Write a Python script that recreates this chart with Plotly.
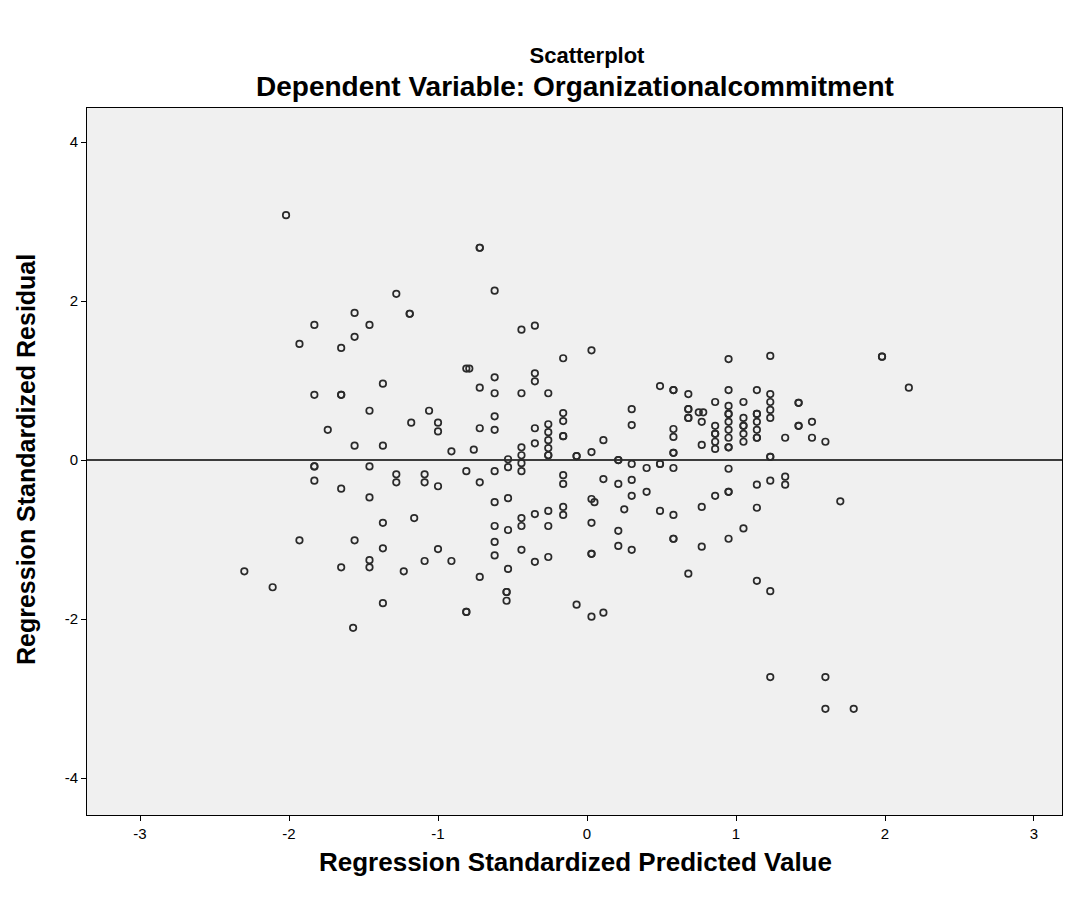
import plotly.graph_objects as go

# Regression standardized predicted values (x) and standardized residuals (y)
pred = [
    -2.02, -1.28, -1.56, -1.83, -1.46, -1.56, -1.93, -1.65, -1.37,
    -0.72, -0.72, -0.62, -1.19, -1.19, -0.44, -0.35, -0.16, -0.81, -0.79, -0.62, -0.35,
    0.03, 0.95, 1.23, 1.98, 1.98,
    -1.83, -1.65, -1.65, -1.46, -1.74, -1.56, -1.37, -1.83, -1.83, -1.46, -1.28, -1.28,
    -1.83, -1.65, -1.46, -1.37, -1.93, -1.56, -1.37, -1.46,
    -2.30, -2.11, -1.65, -1.46, -1.23, -1.37, -1.57,
    -0.72, -0.62, -0.44, -0.26, -0.35, -1.06, -1.18, -1.00, -1.00, -0.72, -0.62, -0.62,
    -0.35, -0.35, -0.26, -0.26, -0.26, -0.26, -0.26, -0.26, -0.16, -0.16, -0.16, -0.16,
    -0.07, -0.07, -0.91, -0.76, -0.53, -0.53, -0.44, -0.44, -0.44, -0.44,
    -1.09, -1.09, -1.00, -0.81, -0.72, -0.62, -0.16, -0.16, -0.62, -0.53,
    -1.16, -0.44, -0.44, -0.35, -0.26, -0.16, -0.16, -0.62, -0.53, -0.26,
    -0.62, -1.00, -0.44, -0.62, -0.26, -1.09, -0.91, -0.35,
    -0.72, -0.53, -0.54, -0.54, -0.54, -0.81, -0.81, -0.07,
    0.03, 0.11, 0.68, 1.14,
    0.49, 0.58, 0.58, 0.68, 0.95, 1.14, 0.30, 0.68, 0.68, 0.68, 0.68, 0.75, 0.78,
    0.86, 0.95, 0.95, 0.95, 0.95, 0.95, 0.95, 0.95, 0.95,
    1.05, 1.05, 1.05, 1.05, 1.05, 1.05, 1.14, 1.14, 1.14, 1.14, 1.14, 1.14,
    0.77, 0.86, 0.86, 0.86, 0.86, 0.86, 0.77, 0.30, 0.11, 0.58, 0.58, 0.58, 0.58,
    0.03, 0.21, 0.21, 0.30, 0.40, 0.49, 0.49, 0.58, 0.95,
    0.11, 0.21, 0.30, 0.30, 0.40, 0.03, 0.05, 0.25, 0.49, 0.58, 0.77, 0.86, 0.95, 0.95,
    1.14, 1.14, 0.03, 0.21, 1.05, 0.58, 0.58, 0.21, 0.30, 0.77, 0.95, 0.03, 0.03,
    2.16, 1.23, 1.23, 1.23, 1.23, 1.42, 1.42, 1.42, 1.42, 1.51, 1.51, 1.60, 1.33,
    1.23, 1.23, 1.23, 1.33, 1.33, 1.70,
    1.23, 1.23, 1.60, 1.60, 1.79,
]

resid = [
    3.08, 2.09, 1.85, 1.70, 1.70, 1.55, 1.46, 1.41, 0.96,
    2.67, 2.67, 2.13, 1.84, 1.84, 1.64, 1.69, 1.28, 1.15, 1.15, 1.04, 1.09,
    1.38, 1.27, 1.31, 1.30, 1.30,
    0.82, 0.82, 0.82, 0.62, 0.38, 0.18, 0.18, -0.08, -0.08, -0.08, -0.18, -0.28,
    -0.26, -0.36, -0.47, -0.79, -1.01, -1.01, -1.11, -1.26,
    -1.40, -1.60, -1.35, -1.35, -1.40, -1.80, -2.11,
    0.91, 0.84, 0.84, 0.84, 0.99, 0.62, 0.47, 0.47, 0.36, 0.40, 0.38, 0.55,
    0.40, 0.21, 0.45, 0.35, 0.25, 0.15, 0.06, 0.06, 0.59, 0.49, 0.30, 0.30,
    0.05, 0.05, 0.11, 0.13, 0.01, -0.09, 0.16, 0.06, -0.04, -0.14,
    -0.18, -0.28, -0.33, -0.14, -0.28, -0.14, -0.19, -0.30, -0.53, -0.48,
    -0.73, -0.73, -0.83, -0.68, -0.64, -0.59, -0.69, -0.83, -0.88, -0.83,
    -1.03, -1.12, -1.13, -1.20, -1.22, -1.27, -1.27, -1.28,
    -1.47, -1.37, -1.66, -1.66, -1.77, -1.91, -1.91, -1.82,
    -1.97, -1.92, -1.43, -1.52,
    0.93, 0.88, 0.88, 0.83, 0.88, 0.88, 0.64, 0.64, 0.64, 0.53, 0.53, 0.60, 0.60,
    0.73, 0.68, 0.58, 0.58, 0.48, 0.38, 0.28, 0.16, 0.16,
    0.73, 0.53, 0.43, 0.43, 0.33, 0.23, 0.58, 0.58, 0.48, 0.38, 0.28, 0.28,
    0.48, 0.43, 0.33, 0.33, 0.23, 0.14, 0.19, 0.44, 0.25, 0.39, 0.29, 0.09, 0.09,
    0.10, 0.00, 0.00, -0.05, -0.10, -0.05, -0.05, -0.10, -0.11,
    -0.24, -0.30, -0.25, -0.45, -0.40, -0.49, -0.53, -0.62, -0.64, -0.69, -0.59, -0.45, -0.40, -0.40,
    -0.31, -0.60, -0.79, -0.89, -0.86, -0.99, -0.99, -1.08, -1.13, -1.09, -0.99, -1.18, -1.18,
    0.91, 0.83, 0.73, 0.63, 0.53, 0.72, 0.72, 0.43, 0.43, 0.48, 0.28, 0.23, 0.28,
    0.04, 0.04, -0.26, -0.21, -0.31, -0.52,
    -1.65, -2.73, -2.73, -3.13, -3.13,
]

x_ticks = [-3, -2, -1, 0, 1, 2, 3]
y_ticks = [-4, -2, 0, 2, 4]

font_family = "Liberation Sans, Arial, sans-serif"

fig = go.Figure()
fig.add_trace(go.Scatter(
    x=pred, y=resid, mode="markers",
    marker=dict(symbol="circle-open", size=6.5, color="#2a2a2a",
                line=dict(width=1.7, color="#2a2a2a")),
    showlegend=False, hoverinfo="x+y",
))

fig.update_layout(
    width=1070, height=892,
    margin=dict(l=79, r=16, t=100, b=85),
    paper_bgcolor="white",
    plot_bgcolor="#F0F0F0",
    font=dict(family=font_family, color="black"),
    title=dict(text="<b>Scatterplot</b>", x=(587 - 8) / 1070, xanchor="center",
               y=1 - (55 - 8) / 892, yanchor="middle", yref="container",
               font=dict(size=22, family=font_family, color="black")),
    annotations=[
        dict(text="<b>Dependent Variable: Organizationalcommitment</b>",
             x=(575 - 87) / 975, y=(815 - 86) / 707, xref="paper", yref="paper",
             xanchor="center", yanchor="middle", showarrow=False,
             font=dict(size=28, family=font_family, color="black")),
        dict(text="<b>Regression Standardized Predicted Value</b>",
             x=(575 - 87) / 975, y=(815 - 862) / 707, xref="paper", yref="paper",
             xanchor="center", yanchor="middle", showarrow=False,
             font=dict(size=26, family=font_family, color="black")),
        dict(text="<b>Regression Standardized Residual</b>",
             x=(26 - 87) / 975, y=(815 - 460) / 707, xref="paper", yref="paper",
             xanchor="center", yanchor="middle", showarrow=False, textangle=-90,
             font=dict(size=25, family=font_family, color="black")),
    ],
    xaxis=dict(
        range=[-3.356, 3.188], tickmode="array", tickvals=x_ticks,
        ticktext=[str(v) for v in x_ticks],
        showgrid=False, zeroline=False,
        showline=True, mirror=True, linecolor="black", linewidth=1,
        ticks="outside", ticklen=5, tickcolor="black",
        tickfont=dict(size=15, family=font_family, color="black"),
    ),
    yaxis=dict(
        range=[-4.465, 4.428], tickmode="array", tickvals=y_ticks,
        ticktext=[str(v) for v in y_ticks],
        showgrid=False, zeroline=True, zerolinecolor="#3c3c3c", zerolinewidth=1.5,
        showline=True, mirror=True, linecolor="black", linewidth=1,
        ticks="outside", ticklen=5, tickcolor="black",
        tickfont=dict(size=15, family=font_family, color="black"),
    ),
)

fig.write_html("out.html")
